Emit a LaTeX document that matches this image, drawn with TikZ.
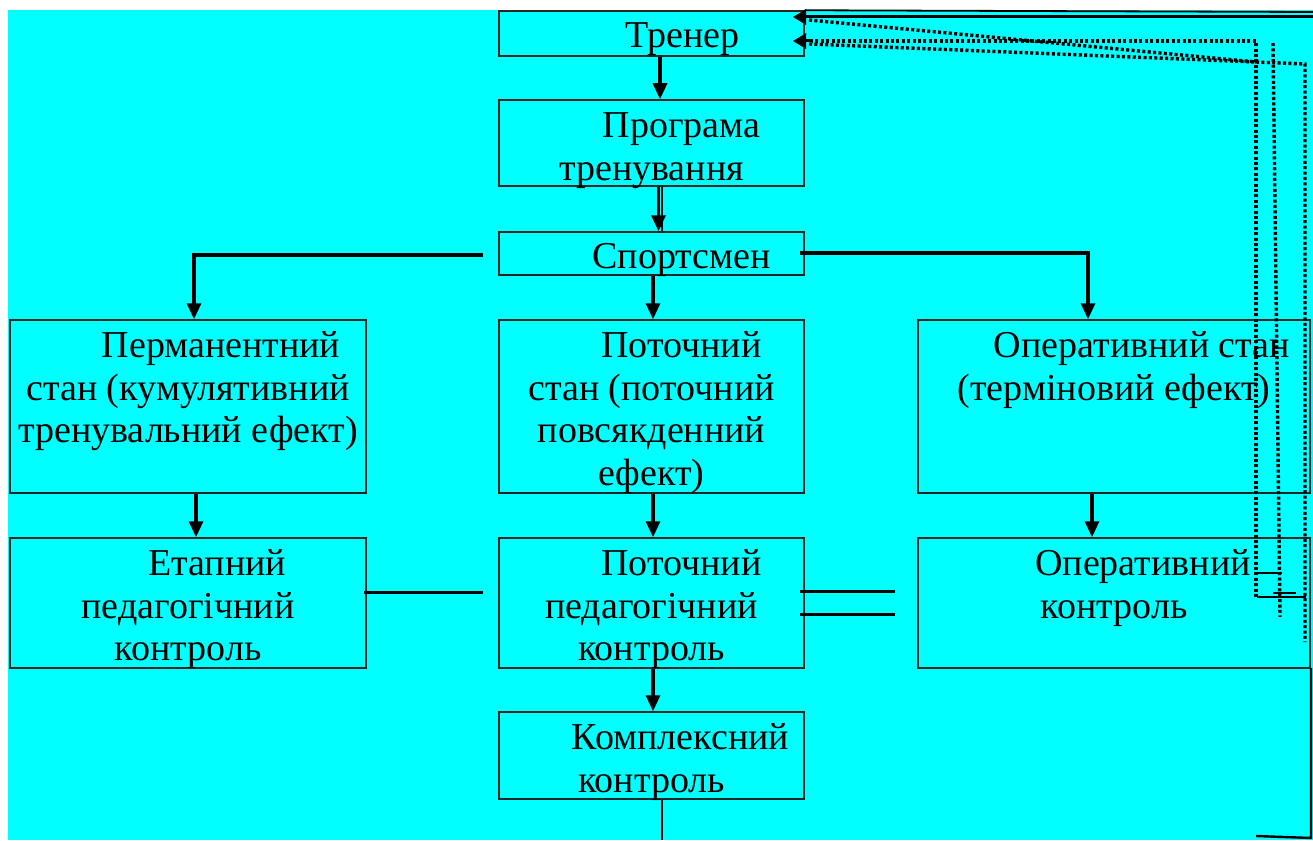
\documentclass[tikz,border=0pt]{standalone}
\usepackage{fontspec}
\setmainfont{Liberation Serif}
\usetikzlibrary{arrows.meta}
\definecolor{bg}{RGB}{0,255,255}
\begin{document}
\begin{tikzpicture}[x=1pt,y=-1pt,
  box/.style={draw=black!85, line width=1.5pt, fill=bg, rectangle, inner sep=0pt},
  txt/.style={font=\fontsize{38}{42.5}\selectfont, align=center, inner sep=0pt, anchor=north},
  arr/.style={draw=black, line width=3.2pt, -{Triangle[width=14pt,length=16pt]}},
  conn/.style={draw=black, line width=3pt},
  thin/.style={draw=black, line width=1.8pt},
  dotl/.style={draw=black, line width=3.4pt, dash pattern=on 3pt off 2.4pt},
  tarr/.style={-{Triangle[width=15pt,length=13pt]}}
]
\useasboundingbox (0,0) rectangle (1313,840);
\fill[white] (0,0) rectangle (1313,840);
\fill[bg] (8,10) rectangle (1313,840);

% boxes
\node[box, minimum width=305, minimum height=45]  (trener) at (651.5,33.5) {};
\node[box, minimum width=305, minimum height=86]  (prog)   at (651.5,143) {};
\node[box, minimum width=305, minimum height=43]  (sport)  at (651.5,253.5) {};
\node[box, minimum width=356, minimum height=173] (perm)   at (188,406.5) {};
\node[box, minimum width=305, minimum height=173] (potst)  at (651.5,406.5) {};
\node[box, minimum width=392, minimum height=173] (operst) at (1114,406.5) {};
\node[box, minimum width=356, minimum height=130] (etap)   at (188,603) {};
\node[box, minimum width=305, minimum height=130] (potk)   at (651.5,603) {};
\node[box, minimum width=392, minimum height=130] (operk)  at (1114,603) {};
\node[box, minimum width=305, minimum height=87]  (kompl)  at (651.5,755.5) {};

% texts
\node[txt] (trenerT) at (651.5,18) {\strut\hspace*{62pt}Тренер};
\node[txt] (progT)   at (651.5,108) {\strut\hspace*{60pt}Програма\\тренування};
\node[txt] (sportT)  at (651.5,239) {\strut\hspace*{60pt}Спортсмен};
\node[txt] (permT)   at (188,328) {\strut\hspace*{66pt}Перманентний\\стан (кумулятивний\\тренувальний ефект)};
\node[txt] (potstT)  at (651.5,328) {\strut\hspace*{60pt}Поточний\\стан (поточний\\повсякденний\\ефект)};
\node[txt] (operstT) at (1114,328) {\strut\hspace*{56pt}Оперативний стан\\(терміновий ефект)};
\node[txt] (etapT)   at (188,546) {\strut\hspace*{58pt}Етапний\\педагогічний\\контроль};
\node[txt] (potkT)   at (651.5,546) {\strut\hspace*{60pt}Поточний\\педагогічний\\контроль};
\node[txt] (operkT)  at (1114,546) {\strut\hspace*{58pt}Оперативний\\контроль};
\node[txt] (komplT)  at (651.5,720) {\strut\hspace*{58pt}Комплексний\\контроль};

% main vertical arrows
\draw[arr] ([xshift=8.5pt]trener.south) -- ([xshift=8.5pt]prog.north);
\draw[arr] ([xshift=7pt]prog.south) -- ([xshift=7pt]sport.north);
\draw[thin] ([xshift=10.5pt]prog.south) -- ([xshift=10.5pt]sport.north);
\draw[arr] ([xshift=1.5pt]sport.south) -- ([xshift=1.5pt]potst.north);
\draw[arr] ([xshift=8pt]perm.south) -- ([xshift=8pt]etap.north);
\draw[arr] ([xshift=1.5pt]potst.south) -- ([xshift=1.5pt]potk.north);
\draw[arr] ([xshift=-22pt]operst.south) -- ([xshift=-22pt]operk.north);
\draw[arr] ([xshift=1.5pt]potk.south) -- ([xshift=1.5pt]kompl.north);

% branches from Спортсмен
\coordinate (sl) at (483,255);
\coordinate (sr) at (800,253);
\draw[arr] (sl) -| ([xshift=6pt]perm.north);
\draw[arr] (sr) -| ([xshift=-26pt]operst.north);

% horizontal links between control boxes
\coordinate (ep) at (483,592);
\draw[conn] ([xshift=-3pt]etap.east |- ep) -- (ep);
\coordinate (d1) at (895,591);
\coordinate (d2) at (895,614);
\draw[conn] ([xshift=-5pt]potk.east |- d1) -- (d1);
\draw[conn] ([xshift=-5pt]potk.east |- d2) -- (d2);

% line below Комплексний контроль
\coordinate (kb) at (662,840);
\draw[thin] ([xshift=10.5pt]kompl.south) -- (kb);

% feedback lines (top right)
\coordinate (tr) at (1313,12);
\draw[thin] (trener.north east) -- (tr);
\coordinate (r1) at (1313,17);
\coordinate (tin1) at (793,17);
\coordinate (tin2) at (793,41);
\draw[conn, tarr] (r1) -- (tin1);

\coordinate (b0) at (1256,597);
\coordinate (b1) at (1256,41);
\draw[dotl] (b0) -- (b1) -- (812,41);
\draw[conn, tarr] (812,41) -- (tin2);

\coordinate (s1) at (809,20);
\coordinate (s2) at (809,44);
\coordinate (j) at (1256,62);
\coordinate (j2) at (1305,64);
\coordinate (j3) at (1305,642);
\draw[dotl] (s1) -- (j);
\draw[dotl] (s2) -- (j);
\draw[dotl] (j) -- (j2) -- (j3);

\coordinate (c0) at (1273,43);
\coordinate (c1) at (1280,617);
\draw[dotl] (c0) -- (c1);

\coordinate (h1a) at (1258,573);
\coordinate (h1b) at (1282,573);
\coordinate (h2a) at (1273,593);
\coordinate (h2b) at (1296,593);
\coordinate (h3a) at (1257,597);
\coordinate (h3b) at (1306,597);
\draw[conn, line width=2.4pt] (h1a) -- (h1b);
\draw[conn, line width=2.4pt] (h2a) -- (h2b);
\draw[conn, line width=2.4pt] (h3a) -- (h3b);

% bottom right
\coordinate (v0) at (1311,668);
\coordinate (v1) at (1311,838);
\coordinate (v2) at (1256,836);
\draw[conn, line width=2.4pt] (v0) -- (v1) -- (v2);
\end{tikzpicture}
\end{document}
